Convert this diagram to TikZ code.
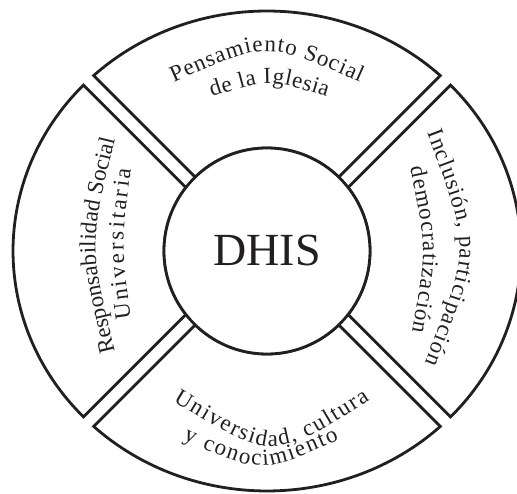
\documentclass[tikz,border=0pt]{standalone}
\usepackage{fontspec}
\setmainfont{Liberation Serif}
\usetikzlibrary{decorations.text}
\definecolor{ink}{RGB}{35,31,32}

\begin{document}
\begin{tikzpicture}[x=1pt,y=1pt,
    sector/.style={draw=ink,line width=2.8pt,line join=miter},
    bend text/.style={decorate,decoration={text along path,text align={fit to path},text color=ink,text={|\fontsize{23}{27}\selectfont|#1}}}]
    \useasboundingbox (-267,-243) rectangle (250,251);
    \clip (-267,-243) rectangle (250,251);
    \draw[sector] (71.76,73.88) -- (173.31,175.43) arc[start angle=46.97,end angle=133.03,x radius=254pt,y radius=240pt] -- (-71.76,73.88) arc[start angle=134.16,end angle=45.84,radius=103pt] -- cycle;
    \draw[sector] (-71.76,-73.88) -- (-173.31,-175.43) arc[start angle=226.97,end angle=313.03,x radius=254pt,y radius=240pt] -- (71.76,-73.88) arc[start angle=-45.84,end angle=-134.16,radius=103pt] -- cycle;
    \draw[sector] (-81.13,63.46) -- (-183.55,165.88) arc[start angle=136.28,end angle=223.72,x radius=254pt,y radius=240pt] -- (-81.13,-63.46) arc[start angle=218.03,end angle=141.97,radius=103pt] -- cycle;
    \draw[sector] (81.13,-63.46) -- (183.55,-165.88) arc[start angle=-43.72,end angle=43.72,x radius=254pt,y radius=240pt] -- (81.13,63.46) arc[start angle=38.03,end angle=-38.03,radius=103pt] -- cycle;
    \node[circle,draw=ink,fill=white,line width=2.8pt,minimum size=206pt,inner sep=0pt,text=ink,font=\fontsize{46}{50}\selectfont] (dhis) at (0,0) {DHIS};
    \path[bend text={Pensamiento Social}] (-93,168.5) .. controls (0,210) .. (93,168.5);
    \path[bend text={de la Iglesia}] (-55,154) .. controls (2,172) .. (60,154);
    \path[bend text={Universidad, cultura}] (-94,-150) .. controls (5,-210.5) .. (103,-149);
    \path[bend text={y conocimiento}] (-84,-189) .. controls (-6,-223) .. (72,-189);
    \path[bend text={Responsabilidad Social}] (-152,-101) .. controls (-178,6) .. (-152,112);
    \path[bend text={Universitaria}] (-136,-68) .. controls (-146,7) .. (-136,82);
    \path[bend text={Inclusión, participación}] (160,118) .. controls (204,3) .. (158,-112);
    \path[bend text={democratización}] (143,83) .. controls (160,2) .. (145,-81);
\end{tikzpicture}
\end{document}
